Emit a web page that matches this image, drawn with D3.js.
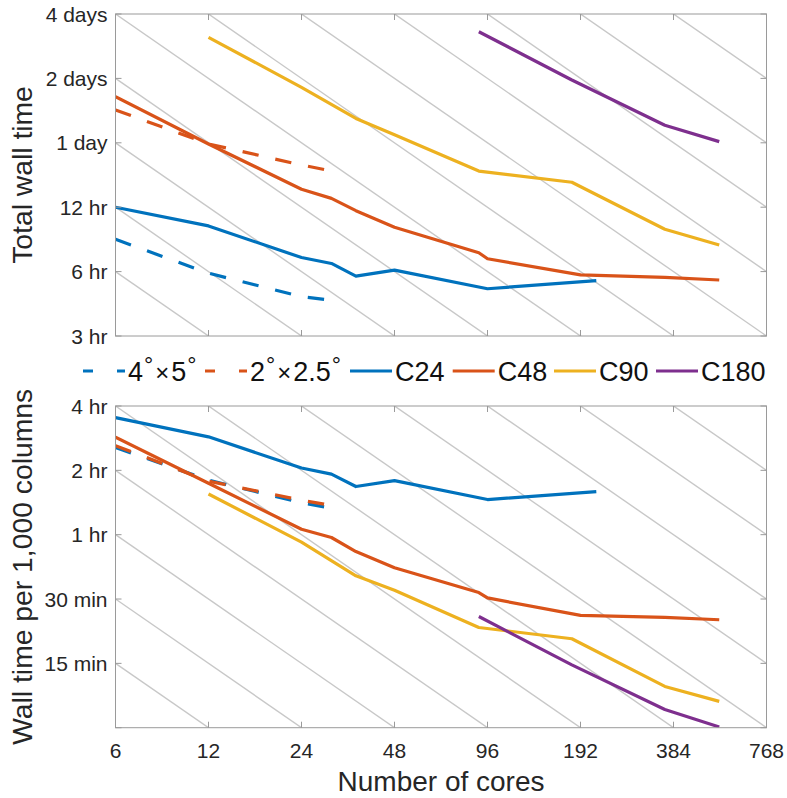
<!DOCTYPE html>
<html><head><meta charset="utf-8">
<script src="https://cdn.jsdelivr.net/npm/d3@7"></script>
<style>body{margin:0;background:#fff}svg{display:block}text{font-family:"Liberation Sans",Arial,Helvetica,sans-serif}</style>
</head><body>
<script>
// ---- data (cores, hours) ----
const xTicks = [6, 12, 24, 48, 96, 192, 384, 768];
const topTickVals = [96, 48, 24, 12, 6, 3];
const topTickLabels = ["4 days", "2 days", "1 day", "12 hr", "6 hr", "3 hr"];
const botTickVals = [4, 2, 1, 0.5, 0.25, 0.125];
const botTickLabels = ["4 hr", "2 hr", "1 hr", "30 min", "15 min", ""];

const coresLL4x5 = [6, 12, 24, 28.4];
const totalLL4x5 = [8.49, 5.9, 4.58, 4.45];
const perLL4x5 = [2.56, 1.80, 1.41, 1.35];

const coresLL2x25 = [6, 12, 24, 28.4];
const totalLL2x25 = [34.2, 23.7, 18.9, 18.0];
const perLL2x25 = [2.61, 1.78, 1.45, 1.39];

const coresC24 = [6, 12, 24, 30, 36, 48, 96, 216];
const totalC24 = [12, 9.81, 6.98, 6.55, 5.71, 6.1, 4.99, 5.45];
const perC24 = [3.53, 2.87, 2.05, 1.92, 1.68, 1.79, 1.46, 1.59];

const coresC48 = [6, 12, 24, 30, 36, 48, 90, 96, 192, 360, 540];
const totalC48 = [39.4, 23.7, 14.55, 13.2, 11.56, 9.67, 7.35, 6.89, 5.79, 5.64, 5.48];
const perC48 = [2.86, 1.74, 1.06, 0.97, 0.834, 0.70, 0.536, 0.506, 0.419, 0.41, 0.40];

const coresC90 = [12, 24, 36, 48, 90, 180, 360, 540];
const totalC90 = [74.7, 43.6, 31.2, 26.2, 17.7, 15.7, 9.47, 7.99];
const perC90 = [1.55, 0.923, 0.642, 0.55, 0.368, 0.326, 0.195, 0.166];

const coresC180 = [90, 180, 360, 540];
const totalC180 = [79.3, 47.2, 29.0, 24.3];
const perC180 = [0.414, 0.246, 0.152, 0.126];

const seriesNames = ["4x5", "2x2.5", "C24", "C48", "C90", "C180"];
const seriesColors = ["#0072BD", "#D95319", "#0072BD", "#D95319", "#EDB120", "#7E2F8E"];
const seriesDashed = [true, true, false, false, false, false];

const series = [
  {cores: coresLL4x5, top: totalLL4x5, bot: perLL4x5},
  {cores: coresLL2x25, top: totalLL2x25, bot: perLL2x25},
  {cores: coresC24, top: totalC24, bot: perC24},
  {cores: coresC48, top: totalC48, bot: perC48},
  {cores: coresC90, top: totalC90, bot: perC90},
  {cores: coresC180, top: totalC180, bot: perC180}
].map((s, i) => Object.assign(s, {name: seriesNames[i], color: seriesColors[i], dashed: seriesDashed[i]}));

// ---- layout ----
const W = 787, H = 798;
const L = 115.5, R = 766.5;
const panels = [
  {key: "top", y0: 14, y1: 336, dom: [3, 96], ticks: topTickVals, labels: topTickLabels, xlabels: false, title: "Total wall time"},
  {key: "bot", y0: 406, y1: 727.7, dom: [0.125, 4], ticks: botTickVals, labels: botTickLabels, xlabels: true, title: "Wall time per 1,000 columns"}
];
const axisColor = "#9a9a9a", textColor = "#262626";

const svg = d3.select("body").append("svg").attr("width", W).attr("height", H);
const x = d3.scaleLog().base(2).domain([6, 768]).range([L, R]);

panels.forEach((p, pi) => {
  const y = d3.scaleLog().base(2).domain(p.dom).range([p.y1, p.y0]);
  const clipId = "clip" + pi;
  svg.append("clipPath").attr("id", clipId).append("rect")
    .attr("x", L).attr("y", p.y0).attr("width", R - L).attr("height", p.y1 - p.y0);
  const g = svg.append("g");
  // ideal-scaling diagonal lines: time*cores = const through every grid corner
  const gridG = g.append("g").attr("clip-path", `url(#${clipId})`);
  for (let j = -8; j <= 14; j++) {
    const C = 6 * p.dom[1] * Math.pow(2, -j);
    gridG.append("line")
      .attr("x1", x(6)).attr("y1", y(C / 6))
      .attr("x2", x(768)).attr("y2", y(C / 768))
      .attr("stroke", "#c8c8c8").attr("stroke-width", 1.4);
  }
  // data lines
  const line = d3.line().x(d => x(d[0])).y(d => y(d[1]));
  const dataG = g.append("g").attr("clip-path", `url(#${clipId})`);
  series.forEach(s => {
    const pts = s.cores.map((c, i) => [c, s[p.key][i]]);
    const path = dataG.append("path").attr("d", line(pts))
      .attr("fill", "none").attr("stroke", s.color).attr("stroke-width", 3.2)
      .attr("stroke-linejoin", "round");
    if (s.dashed) {
      // seven dashes, the last one ending at the final point
      const len = path.node().getTotalLength();
      const f = 0.49, P = len / (6 + f);
      path.attr("stroke-dasharray", `${f * P},${(1 - f) * P}`);
    }
  });
  // box
  g.append("rect").attr("x", L).attr("y", p.y0).attr("width", R - L).attr("height", p.y1 - p.y0)
    .attr("fill", "none").attr("stroke", axisColor).attr("stroke-width", 1);
  // y ticks (inward, both sides) and labels
  const tl = 6;
  p.ticks.forEach((v, i) => {
    const yy = y(v);
    g.append("line").attr("x1", L).attr("x2", L + tl).attr("y1", yy).attr("y2", yy).attr("stroke", axisColor);
    g.append("line").attr("x1", R).attr("x2", R - tl).attr("y1", yy).attr("y2", yy).attr("stroke", axisColor);
    if (p.labels[i]) {
      g.append("text").attr("x", L - 8).attr("y", yy).attr("dy", "0.36em")
        .attr("text-anchor", "end").attr("font-size", 21).attr("fill", textColor).text(p.labels[i]);
    }
  });
  // x ticks
  xTicks.forEach(v => {
    const xx = x(v);
    g.append("line").attr("x1", xx).attr("x2", xx).attr("y1", p.y1).attr("y2", p.y1 - tl).attr("stroke", axisColor);
    g.append("line").attr("x1", xx).attr("x2", xx).attr("y1", p.y0).attr("y2", p.y0 + tl).attr("stroke", axisColor);
    if (p.xlabels) {
      g.append("text").attr("x", xx).attr("y", 757.5).attr("text-anchor", "middle")
        .attr("font-size", 21).attr("fill", textColor).text(v);
    }
  });
  // y title
  const cy = (p.y0 + p.y1) / 2;
  g.append("text").attr("transform", `translate(32,${cy}) rotate(-90)`)
    .attr("text-anchor", "middle").attr("font-size", 28.3).attr("fill", textColor).text(p.title);
});

// x title
svg.append("text").attr("x", (L + R) / 2).attr("y", 791).attr("text-anchor", "middle")
  .attr("font-size", 28).attr("fill", textColor).text("Number of cores");

// ---- legend ----
const legendX = [83, 205, 350, 452.7, 554, 656];
const legY = 371, legLen = 42;
const lg = svg.append("g");
series.forEach((s, i) => {
  const x0 = legendX[i];
  lg.append("line").attr("x1", x0).attr("x2", x0 + legLen).attr("y1", legY).attr("y2", legY)
    .attr("stroke", s.color).attr("stroke-width", 3.2)
    .attr("stroke-dasharray", s.dashed ? "10,24" : null);
  const t = lg.append("text").attr("x", x0 + legLen + 3).attr("y", 381)
    .attr("font-size", 27).attr("fill", "#111");
  if (s.name === "4x5" || s.name === "2x2.5") {
    const parts = s.name.split("x");
    t.append("tspan").text(parts[0]);
    t.append("tspan").attr("dy", -8).attr("dx", 1).attr("font-size", 23).text("°");
    t.append("tspan").attr("dy", 8).attr("dx", 2).attr("font-size", 24).text("×");
    t.append("tspan").attr("dx", 2).text(parts[1]);
    t.append("tspan").attr("dy", -8).attr("dx", 1).attr("font-size", 23).text("°");
  } else {
    t.text(s.name);
  }
});
</script>
</body></html>
